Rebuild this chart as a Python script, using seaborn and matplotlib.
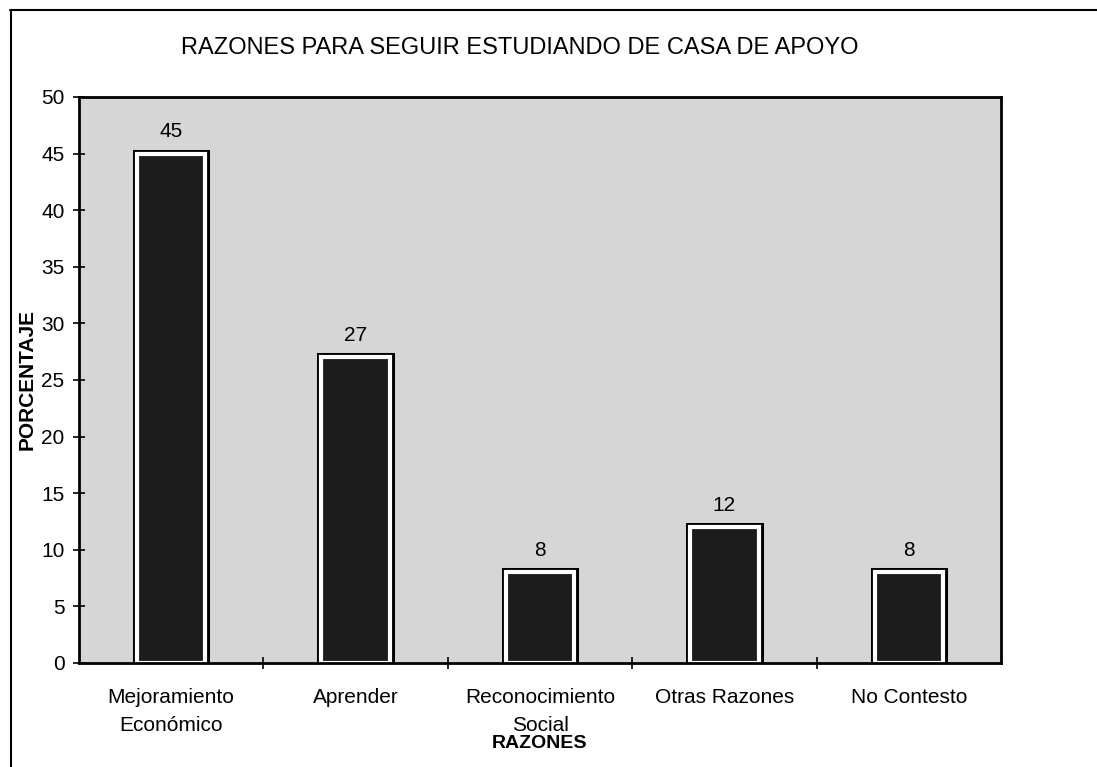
import matplotlib
matplotlib.use("Agg")
import matplotlib.pyplot as plt
import matplotlib.patheffects as pe
from matplotlib.lines import Line2D
import seaborn as sns

# Data
razones = ["Mejoramiento\nEconómico", "Aprender", "Reconocimiento\nSocial", "Otras Razones", "No Contesto"]
porcentaje = [45, 27, 8, 12, 8]
y_ticks = [0, 5, 10, 15, 20, 25, 30, 35, 40, 45, 50]

sns.set_theme(style="white")
plt.rcParams['font.family'] = ['Liberation Sans', 'DejaVu Sans']
plt.rcParams['text.color'] = 'black'
plt.rcParams['axes.labelcolor'] = 'black'
plt.rcParams['xtick.color'] = 'black'
plt.rcParams['ytick.color'] = 'black'

fig = plt.figure(figsize=(10.97, 7.67), dpi=100)
ax = fig.add_axes([0.072, 0.1356, 0.8405, 0.738])
ax.set_facecolor('#d6d6d6')

# Dark bars with a white inner ring and black outline
sns.barplot(x=razones, y=porcentaje, color='#1c1c1c', width=0.37,
            edgecolor='white', linewidth=3, saturation=1, ax=ax)
for bar in ax.patches:
    bar.set_path_effects([pe.Stroke(linewidth=6.5, foreground='black'), pe.Normal()])

# Value labels above the bars
ax.bar_label(ax.containers[0], fmt='%d', padding=9, fontsize=15, color='black')

ax.set_xlim(-0.5, len(razones) - 0.5)
ax.set_ylim(0, 50)
ax.set_yticks(y_ticks)
ax.tick_params(axis='y', direction='inout', length=9, width=1.2, labelsize=15, pad=6, left=True)
ax.tick_params(axis='x', which='major', length=0, labelsize=15, pad=18)
for lbl in ax.get_xticklabels():
    lbl.set_linespacing(1.6)
ax.set_xticks([i + 0.5 for i in range(len(razones) - 1)], minor=True)
ax.tick_params(axis='x', which='minor', direction='inout', length=9, width=1.2, bottom=True)

for s in ax.spines.values():
    s.set_color('black')
    s.set_linewidth(2)

ax.set_ylabel('PORCENTAJE', fontsize=15, fontweight='bold', labelpad=3)
ax.set_xlabel('RAZONES', fontsize=14, fontweight='bold', labelpad=0)

fig.text(0.474, 0.938, 'RAZONES PARA SEGUIR ESTUDIANDO DE CASA DE APOYO',
         ha='center', va='center', fontsize=17)

# Outer frame (top and left) as in the scanned page
fig.add_artist(Line2D([0.009, 1.0], [0.987, 0.987], color='black', lw=1.5))
fig.add_artist(Line2D([0.010, 0.010], [0.0, 0.987], color='black', lw=1.5))

plt.savefig("out.png", dpi=100)
